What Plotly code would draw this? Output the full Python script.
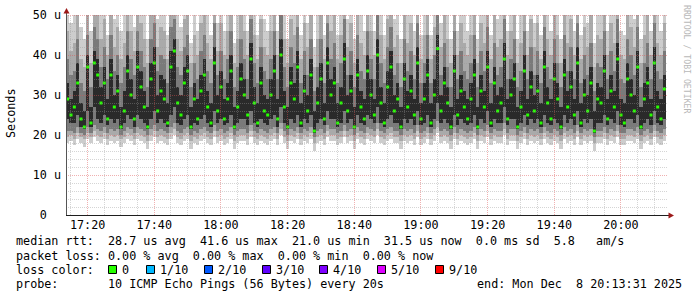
import plotly.graph_objects as go
import pandas as pd

# ---------------- data ----------------
START = "2025-12-08 17:13:31"
END = "2025-12-08 20:13:31"
STEP_S = 60

median = [
    29, 25, 27, 33, 24, 22, 37, 23, 38, 35, 28, 33, 24, 35, 27, 31, 22, 26, 36, 30,
    24, 37, 32, 27, 22, 34, 38, 26, 31, 29, 23, 37, 41, 28, 25, 33, 36, 22, 29, 24,
    31, 35, 27, 23, 38, 26, 32, 24, 29, 36, 22, 27, 34, 30, 25, 39, 28, 23, 33, 26,
    25, 30, 36, 24, 40, 27, 22, 33, 29, 37, 23, 31, 26, 35, 21, 28, 34, 24, 38, 30,
    33, 23, 28, 39, 26, 31, 22, 35, 27, 24, 36, 30, 25, 40, 28, 23, 32, 37, 26, 29,
    22, 34, 27, 31, 25, 38, 24, 29, 35, 23, 30, 41.6, 26, 33, 28, 22, 36, 25, 31, 27,
    24, 29, 35, 22, 31, 27, 37, 23, 33, 26, 28, 39, 24, 30, 34, 22, 27, 36, 25, 32,
    26, 31, 23, 37, 28, 24, 34, 29, 22, 35, 27, 32, 25, 38, 23, 30, 26, 33, 21, 29,
    28, 36, 24, 31, 27, 39, 25, 23, 34, 30, 26, 37, 22, 29, 33, 25, 38, 27, 24, 31.5,
]
core_lo = [
    24, 23, 23, 25, 22, 21.5, 26, 22, 27, 24, 23, 25, 22.5, 24, 23, 24, 21.5, 23, 25, 24,
    22, 25, 24, 23, 21.5, 24, 26, 23, 24, 23, 22, 25, 27, 23, 22.5, 24, 25, 21.5, 23, 22.5,
    24, 25, 23, 22, 26, 23, 24, 22.5, 23, 25, 21.5, 23, 24, 24, 22.5, 26, 23, 22, 24, 23,
    22.5, 24, 25, 22, 27, 23, 21.5, 24, 23, 25, 22, 24, 23, 25, 20.5, 23, 24, 22.5, 26, 24,
    24, 22, 23, 26, 23, 24, 21.5, 25, 23, 22.5, 25, 24, 23, 27, 23, 22, 24, 25, 23, 23,
    21.5, 24, 23, 24, 22.5, 26, 22.5, 23, 25, 22, 24, 28, 23, 24, 23, 21.5, 25, 22.5, 24, 23,
    22.5, 23, 25, 21.5, 24, 23, 26, 22, 24, 23, 23, 27, 22.5, 24, 24, 21.5, 23, 25, 22.5, 24,
    23, 24, 22, 25, 23, 22.5, 24, 23, 21.5, 25, 23, 24, 22.5, 26, 22, 24, 23, 24, 20.5, 23,
    23, 25, 22.5, 24, 23, 26, 22.5, 22, 24, 24, 23, 25, 21.5, 23, 24, 22.5, 26, 23, 22.5, 24,
]
core_hi = [
    33, 29, 31, 38, 28, 26, 40, 27, 41, 39, 32, 37, 29, 39, 30, 35, 27, 31, 40, 34,
    29, 41, 36, 31, 27, 38, 42, 30, 35, 34, 28, 41, 44, 32, 30, 37, 40, 27, 33, 29,
    35, 39, 31, 28, 42, 30, 36, 29, 33, 40, 27, 31, 38, 34, 29, 43, 32, 28, 37, 30,
    29, 34, 40, 29, 44, 31, 27, 37, 33, 41, 28, 35, 30, 39, 26, 32, 38, 28, 42, 34,
    37, 28, 32, 43, 30, 35, 27, 39, 31, 29, 40, 34, 29, 44, 32, 28, 36, 41, 30, 33,
    27, 38, 31, 35, 29, 42, 28, 33, 39, 28, 34, 45, 30, 37, 32, 27, 40, 29, 35, 31,
    29, 33, 39, 27, 35, 31, 41, 28, 37, 30, 32, 43, 29, 34, 38, 27, 31, 40, 29, 36,
    30, 35, 28, 41, 32, 29, 38, 33, 27, 39, 31, 36, 29, 42, 28, 34, 30, 37, 26, 33,
    32, 40, 29, 35, 31, 43, 29, 28, 38, 34, 30, 41, 27, 33, 37, 29, 42, 31, 29, 35,
]
mid_lo = [
    21, 21, 20.5, 22, 20.5, 20, 22, 20.5, 22.5, 21.5, 21, 22, 20.5, 21.5, 21, 21.5, 20, 21, 22, 21.5,
    20.5, 22, 21.5, 21, 20, 21.5, 22.5, 21, 21.5, 21, 20.5, 22, 23, 21, 20.5, 21.5, 22, 20, 21, 20.5,
    21.5, 22, 21, 20.5, 22.5, 21, 21.5, 20.5, 21, 22, 20, 21, 21.5, 21.5, 20.5, 22.5, 21, 20.5, 21.5, 21,
    20.5, 21.5, 22, 20.5, 23, 21, 20, 21.5, 21, 22, 20.5, 21.5, 21, 22, 19.5, 21, 21.5, 20.5, 22.5, 21.5,
    21.5, 20.5, 21, 22.5, 21, 21.5, 20, 22, 21, 20.5, 22, 21.5, 21, 23, 21, 20.5, 21.5, 22, 21, 21,
    20, 21.5, 21, 21.5, 20.5, 22.5, 20.5, 21, 22, 20.5, 21.5, 23.5, 21, 21.5, 21, 20, 22, 20.5, 21.5, 21,
    20.5, 21, 22, 20, 21.5, 21, 22.5, 20.5, 21.5, 21, 21, 23, 20.5, 21.5, 21.5, 20, 21, 22, 20.5, 21.5,
    21, 21.5, 20.5, 22, 21, 20.5, 21.5, 21, 20, 22, 21, 21.5, 20.5, 22.5, 20.5, 21.5, 21, 21.5, 19.5, 21,
    21, 22, 20.5, 21.5, 21, 22.5, 20.5, 20.5, 21.5, 21.5, 21, 22, 20, 21, 21.5, 20.5, 22.5, 21, 20.5, 21.5,
]
mid_hi = [
    39, 35, 36, 44, 33, 31, 45, 32, 47, 44, 37, 42, 34, 45, 36, 40, 33, 37, 46, 39,
    35, 46, 41, 37, 32, 44, 48, 36, 40, 39, 33, 47, 49, 37, 35, 42, 45, 32, 38, 34,
    41, 45, 36, 33, 48, 35, 41, 34, 39, 46, 32, 37, 44, 39, 34, 49, 38, 33, 42, 36,
    34, 39, 46, 34, 50, 37, 32, 42, 38, 47, 33, 41, 35, 44, 31, 37, 44, 33, 48, 39,
    43, 33, 38, 49, 35, 41, 32, 45, 36, 34, 46, 39, 34, 50, 38, 33, 42, 47, 35, 38,
    32, 44, 36, 41, 34, 48, 33, 38, 45, 33, 40, 51, 35, 43, 37, 32, 46, 34, 41, 36,
    34, 38, 45, 32, 41, 36, 47, 33, 43, 35, 37, 49, 34, 39, 44, 32, 36, 46, 34, 42,
    35, 41, 33, 47, 37, 34, 44, 38, 32, 45, 36, 42, 34, 48, 33, 40, 35, 43, 31, 38,
    37, 46, 34, 41, 36, 49, 34, 33, 44, 40, 35, 47, 32, 38, 43, 34, 48, 36, 34, 41,
]
wide_lo = [
    19.5, 20, 19, 20.5, 19.5, 19, 20.5, 19.5, 21, 20, 19.5, 20.5, 19, 20, 19.5, 20, 19, 19.5, 20.5, 20,
    19, 20.5, 20, 19.5, 18.5, 20, 21, 19.5, 20, 19.5, 19, 20.5, 21.5, 19.5, 19, 20, 20.5, 18.5, 19.5, 19,
    20, 20.5, 19.5, 19, 21, 19.5, 20, 19, 19.5, 20.5, 18.5, 19.5, 20, 20, 19, 21, 19.5, 19, 20, 19.5,
    19, 20, 20.5, 19, 21.5, 19.5, 18.5, 20, 19.5, 20.5, 19, 20, 19.5, 20.5, 18, 19.5, 20, 19, 21, 20,
    20, 19, 19.5, 21, 19.5, 20, 18.5, 20.5, 19.5, 19, 20.5, 20, 19.5, 21.5, 19.5, 19, 20, 20.5, 19.5, 19.5,
    18.5, 20, 19.5, 20, 19, 21, 19, 19.5, 20.5, 19, 20, 22, 19.5, 20, 19.5, 18.5, 20.5, 19, 20, 19.5,
    19, 19.5, 20.5, 18.5, 20, 19.5, 21, 19, 20, 19.5, 19.5, 21.5, 19, 20, 20, 18.5, 19.5, 20.5, 19, 20,
    19.5, 20, 19, 20.5, 19.5, 19, 20, 19.5, 18.5, 20.5, 19.5, 20, 19, 21, 19, 20, 19.5, 20, 18, 19.5,
    19.5, 20.5, 19, 20, 19.5, 21, 19, 19, 20, 20, 19.5, 20.5, 18.5, 19.5, 20, 19, 21, 19.5, 19, 20,
]
wide_hi = [
    46, 41, 43, 52, 39, 37, 53, 38, 55, 51, 44, 49, 40, 52, 42, 47, 39, 43, 54, 46,
    41, 54, 48, 44, 38, 51, 56, 42, 47, 46, 39, 55, 57, 44, 41, 49, 53, 38, 45, 40,
    48, 52, 43, 39, 56, 41, 48, 40, 46, 54, 38, 44, 51, 46, 40, 57, 45, 39, 49, 42,
    40, 46, 54, 40, 58, 44, 38, 49, 45, 55, 39, 48, 42, 52, 37, 44, 51, 39, 56, 46,
    50, 39, 45, 57, 42, 48, 38, 53, 43, 40, 54, 46, 40, 58, 45, 39, 49, 55, 42, 45,
    38, 51, 43, 48, 40, 56, 39, 45, 52, 39, 47, 59, 42, 50, 44, 38, 54, 40, 48, 43,
    40, 45, 53, 38, 48, 43, 55, 39, 50, 42, 44, 57, 40, 46, 51, 38, 43, 54, 40, 49,
    42, 48, 39, 55, 44, 40, 51, 45, 38, 53, 43, 49, 40, 56, 39, 47, 42, 50, 37, 45,
    44, 54, 40, 48, 43, 57, 40, 39, 51, 47, 42, 55, 38, 45, 50, 40, 56, 43, 40, 48,
]
ping_min = [
    18, 18.5, 17.5, 19, 18, 17, 19, 18, 19.5, 18.5, 18, 19, 17.5, 18.5, 18, 18.5, 17, 18, 19, 18.5,
    17.5, 19, 18.5, 18, 16.5, 18.5, 19.5, 18, 18.5, 18, 17.5, 19, 20, 18, 17.5, 18.5, 19, 16.5, 18, 17.5,
    18.5, 19, 18, 17.5, 19.5, 18, 18.5, 17.5, 18, 19, 16.5, 18, 18.5, 18.5, 17.5, 19.5, 18, 17.5, 18.5, 18,
    17.5, 18.5, 19, 17.5, 20, 18, 16.5, 18.5, 18, 19, 17.5, 18.5, 18, 19, 16, 18, 18.5, 17.5, 19.5, 18.5,
    18.5, 17.5, 18, 19.5, 18, 18.5, 16.5, 19, 18, 17.5, 19, 18.5, 18, 20, 18, 17.5, 18.5, 19, 18, 18,
    16.5, 18.5, 18, 18.5, 17.5, 19.5, 17.5, 18, 19, 17.5, 18.5, 20.5, 18, 18.5, 18, 16.5, 19, 17.5, 18.5, 18,
    17.5, 18, 19, 16.5, 18.5, 18, 19.5, 17.5, 18.5, 18, 18, 20, 17.5, 18.5, 18.5, 16.5, 18, 19, 17.5, 18.5,
    18, 18.5, 17.5, 19, 18, 17.5, 18.5, 18, 16.5, 19, 18, 18.5, 17.5, 19.5, 17.5, 18.5, 18, 18.5, 16, 18,
    18, 19, 17.5, 18.5, 18, 19.5, 17.5, 17.5, 18.5, 18.5, 18, 19, 16.5, 18, 18.5, 17.5, 19.5, 18, 17.5, 18.5,
]
ping_max = [
    58, 48, 55, 62, 47, 44, 60, 46, 63, 59, 52, 57, 45, 61, 49, 56, 46, 51, 63, 54,
    47, 62, 57, 50, 44, 59, 64, 49, 55, 53, 45, 63, 66, 51, 47, 57, 61, 43, 52, 46,
    56, 60, 50, 45, 65, 48, 56, 46, 54, 62, 43, 51, 59, 54, 46, 66, 52, 45, 57, 49,
    46, 53, 62, 46, 67, 51, 44, 57, 52, 63, 45, 56, 48, 60, 42, 51, 59, 45, 65, 53,
    58, 45, 52, 66, 49, 56, 44, 61, 50, 46, 62, 53, 46, 67, 52, 45, 57, 63, 49, 52,
    44, 59, 50, 56, 46, 64, 45, 52, 60, 45, 55, 68, 48, 58, 51, 44, 62, 46, 56, 50,
    46, 52, 61, 44, 56, 50, 63, 45, 58, 49, 51, 66, 46, 53, 59, 44, 50, 62, 46, 57,
    48, 56, 45, 63, 51, 46, 59, 52, 44, 61, 50, 57, 46, 65, 45, 55, 48, 58, 43, 52,
    51, 62, 46, 56, 50, 66, 46, 45, 59, 54, 49, 63, 44, 52, 58, 46, 64, 50, 46, 56,
]

y_tickvals = [0, 10, 20, 30, 40, 50]
y_ticktext = ["0\u00a0\u00a0", "10\u00a0u", "20\u00a0u", "30\u00a0u", "40\u00a0u", "50\u00a0u"]

loss_labels = ["0", "1/10", "2/10", "3/10", "4/10", "5/10", "9/10"]
loss_colors = ["#26ff00", "#00b8ff", "#0059ff", "#5e00ff", "#7e00ff", "#dd00ff", "#ff0000"]

stats_rtt = "median rtt:  28.7 us avg  41.6 us max  21.0 us min  31.5 us now  0.0 ms sd  5.8   am/s"
stats_loss = "packet loss: 0.00 % avg  0.00 % max  0.00 % min  0.00 % now"
probe_text = "probe:       10 ICMP Echo Pings (56 Bytes) every 20s"
end_text = "end: Mon Dec  8 20:13:31 2025"

# ---------------- geometry (pixels) ----------------
W, H = 697, 297
PL, PR, PT, PB = 66, 666, 15, 215
PW, PH = PR - PL, PB - PT
FONT = "DejaVu Sans Mono"
FS = 11.75


def px(xp):
    return (xp - PL) / PW


def py(yp):
    return (PB - yp) / PH


def nb(s):
    return s.replace(" ", "\u00a0")


t0 = pd.Timestamp(START)
t1 = pd.Timestamp(END)
times = pd.date_range(t0 + pd.Timedelta(seconds=STEP_S / 2), periods=len(median), freq=f"{STEP_S}s")

fig = go.Figure()

layers = [
    (ping_min, ping_max, "#cdcdcd"),
    (wide_lo, wide_hi, "#aaaaaa"),
    (mid_lo, mid_hi, "#7a7a7a"),
    (core_lo, core_hi, "#2a2a2a"),
]
for lo, hi, col in layers:
    fig.add_trace(go.Bar(
        x=times, base=lo, y=[h - l for l, h in zip(lo, hi)],
        width=STEP_S * 1000, marker=dict(color=col, line=dict(width=0)),
        hoverinfo="skip", showlegend=False,
    ))

fig.add_trace(go.Scatter(
    x=times, y=median, mode="markers",
    marker=dict(symbol="square", size=3, color="#26ff00", line=dict(width=0)),
    hoverinfo="skip", showlegend=False,
))

shapes = []
span = (t1 - t0).total_seconds()


def xsnap(t):
    xp = PL + (t - t0).total_seconds() / span * PW
    return px(int(xp) + 0.5)


def ysnap(v):
    yp = PB - v / 50 * PH
    return py(int(round(yp)) + 0.5)


minor_color = "rgba(150,150,150,0.4)"
major_color = "rgba(222,80,80,0.45)"
dot = "1px,1px"

# vertical grid
for t in pd.date_range("2025-12-08 17:15", "2025-12-08 20:10", freq="5min"):
    major = (t.minute % 20 == 0)
    xx = xsnap(t)
    shapes.append(dict(type="line", xref="paper", yref="paper", x0=xx, x1=xx, y0=0, y1=1,
                       line=dict(color=major_color if major else minor_color, width=1, dash=dot),
                       layer="above"))
# horizontal grid
for v in range(2, 51, 2):
    major = (v % 10 == 0)
    yy = ysnap(v)
    shapes.append(dict(type="line", xref="paper", yref="paper", x0=0, x1=px(668), y0=yy, y1=yy,
                       line=dict(color=major_color if major else minor_color, width=1, dash=dot),
                       layer="above"))

axis_col = "#1e1e1e"
arrow_col = "#9c1a1a"
shapes.append(dict(type="line", xref="paper", yref="paper", x0=px(66.5), x1=px(66.5),
                   y0=py(215.5), y1=py(12), line=dict(color="#555555", width=1), layer="above"))
shapes.append(dict(type="line", xref="paper", yref="paper", x0=px(66), x1=px(670),
                   y0=py(215.5), y1=py(215.5), line=dict(color=axis_col, width=1), layer="above"))
shapes.append(dict(type="path", xref="paper", yref="paper",
                   path=f"M {px(63.5)} {py(13.5)} L {px(66.5)} {py(8)} L {px(69.5)} {py(13.5)} Z",
                   fillcolor=arrow_col, line=dict(width=0), layer="above"))
shapes.append(dict(type="path", xref="paper", yref="paper",
                   path=f"M {px(668.5)} {py(212.5)} L {px(674)} {py(215.5)} L {px(668.5)} {py(218.5)} Z",
                   fillcolor=arrow_col, line=dict(width=0), layer="above"))

annotations = []
txtfont = dict(family=FONT, size=FS, color="#000000")


def add_text(s, xp, yp, anchor="left", font=None, angle=0):
    annotations.append(dict(text=nb(s), x=px(xp), y=py(yp), xref="paper", yref="paper",
                            xanchor=anchor, yanchor="middle", showarrow=False,
                            font=font or txtfont, borderpad=0, borderwidth=0, textangle=angle))


add_text(stats_rtt, 16, 241)
add_text(stats_loss, 16, 255.5)
add_text("loss color:", 16, 269.5)
add_text(probe_text, 16, 284)
add_text(end_text, 682, 284, anchor="right")
add_text("Seconds", 11, 113, anchor="center", angle=-90)
add_text("RRDTOOL / TOBI OETIKER", 687, 59, anchor="center",
         font=dict(family=FONT, size=8.2, color="#b8b8b8"), angle=90)

box_x = [108, 146, 204, 262, 319, 377, 435]
for bx, lab, col in zip(box_x, loss_labels, loss_colors):
    shapes.append(dict(type="rect", xref="paper", yref="paper",
                       x0=px(bx + 0.5), x1=px(bx + 8.5), y0=py(265.5), y1=py(273.5),
                       fillcolor=col, line=dict(color="#000000", width=1)))
    add_text(lab, bx + 14, 269.5)

xticks = pd.date_range("2025-12-08 17:20", "2025-12-08 20:00", freq="20min")

fig.update_layout(
    template="none",
    width=W, height=H,
    margin=dict(l=PL, r=W - PR, t=PT, b=H - PB, pad=0, autoexpand=False),
    paper_bgcolor="#ffffff", plot_bgcolor="#ffffff",
    barmode="overlay", bargap=0, showlegend=False,
    font=dict(family=FONT, size=FS, color="#000000"),
    xaxis=dict(type="date", range=[t0, t1], tickvals=xticks, tickformat="%H:%M",
               showgrid=False, zeroline=False, showline=False, ticks="", automargin=False,
               tickfont=dict(family=FONT, size=FS, color="#000000"), ticklabelstandoff=1,
               fixedrange=True),
    yaxis=dict(range=[0, 50], tickvals=y_tickvals, ticktext=y_ticktext,
               showgrid=False, zeroline=False, showline=False, ticks="", automargin=False,
               tickfont=dict(family=FONT, size=FS, color="#000000"), ticklabelstandoff=4,
               fixedrange=True),
    shapes=shapes, annotations=annotations,
)

fig.write_html("out.html", config={"displayModeBar": False})
